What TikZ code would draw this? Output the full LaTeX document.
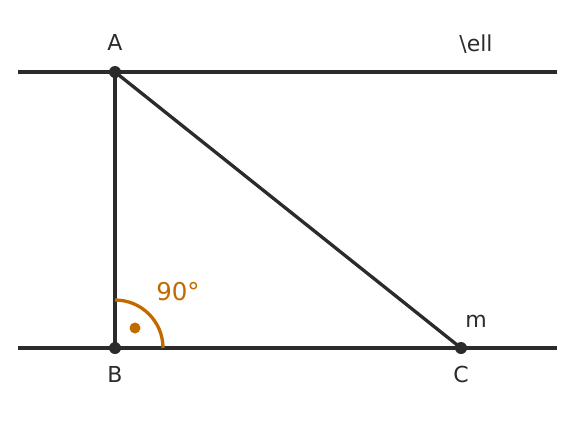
\documentclass[tikz,border=0pt]{standalone}
\usepackage{fontspec}
\setmainfont{DejaVu Sans}
\definecolor{ink}{HTML}{2B2B2B}
\definecolor{org}{HTML}{C06A00}
\begin{document}
\begin{tikzpicture}[x=1bp,y=-1bp,
  ln/.style={draw=ink,line width=3.3bp},
  pt/.style={circle,fill=ink,inner sep=0pt,minimum size=12bp},
  lbl/.style={text=ink,font=\fontsize{22bp}{25bp}\selectfont,inner sep=0pt},
  olbl/.style={text=org,font=\fontsize{24.5bp}{27bp}\selectfont,inner sep=0pt}]
\useasboundingbox (0,0) rectangle (576,420);
\coordinate (l1) at (18,72);
\coordinate (l2) at (557,72);
\coordinate (m1) at (18,348);
\coordinate (m2) at (557,348);
\coordinate (A) at (115,72);
\coordinate (B) at (115,348);
\coordinate (C) at (461,348);
\draw[ln] (l1) -- (l2);
\draw[ln] (m1) -- (m2);
\draw[ln] (A) -- (B);
\draw[ln] (A) -- (C);
\node[pt] (pA) at (A) {};
\node[pt] (pB) at (B) {};
\node[pt] (pC) at (C) {};
\draw[draw=org,line width=3.3bp] (163,348) arc[start angle=0,end angle=-90,radius=48];
\node[circle,fill=org,inner sep=0pt,minimum size=11bp] (dot) at (135,328) {};
\node[lbl] (tA) at (115,42) {A};
\node[lbl] (tB) at (115,374) {B};
\node[lbl] (tC) at (461,374) {C};
\node[lbl] (tl) at (476,44) {\textbackslash ell};
\node[lbl] (tm) at (476,321) {m};
\node[olbl] (t90) at (178,292) {90°};
\end{tikzpicture}
\end{document}
